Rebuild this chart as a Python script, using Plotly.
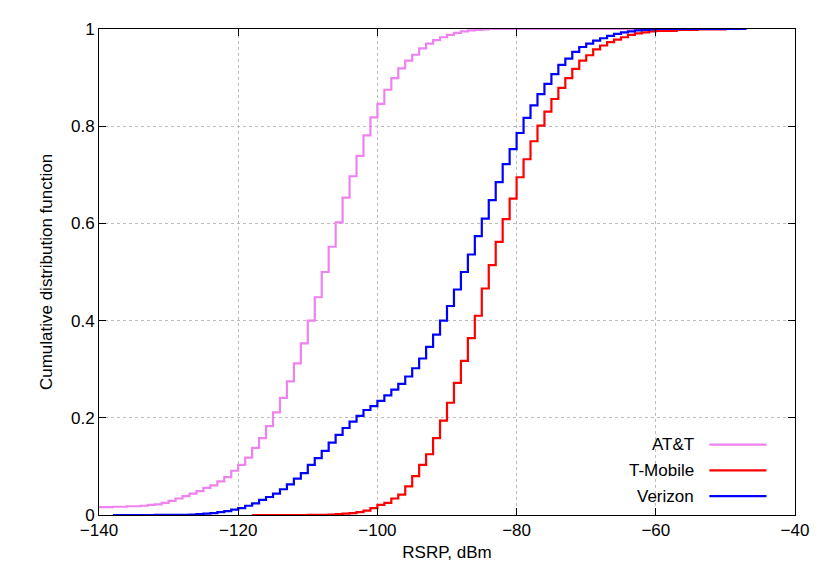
import plotly.graph_objects as go

x_att = list(range(-140, -83)) + [-47]
y_att = [0.016,0.016,0.017,0.017,0.018,0.018,0.019,0.021,0.022,0.025,
         0.029,0.034,0.039,0.044,0.049,0.056,0.061,0.069,0.078,0.091,
         0.103,0.118,0.138,0.158,0.183,0.211,0.241,0.275,0.312,0.353,
         0.40,0.448,0.50,0.552,0.602,0.653,0.697,0.739,0.781,0.818,
         0.846,0.875,0.899,0.919,0.935,0.947,0.96,0.97,0.977,0.983,
         0.988,0.992,0.995,0.997,0.998,0.999,1.0,1.0]

x_tmo = [-118,-110] + list(range(-107, -59)) + [-57,-54,-50,-47]
y_tmo = [0.0,0.0005,0.001,0.002,0.003,0.004,0.006,0.009,0.014,
         0.021,0.025,0.034,0.042,0.059,0.08,0.103,0.125,0.158,0.194,
         0.231,0.272,0.317,0.364,0.41,0.466,0.514,0.562,0.609,0.651,
         0.695,0.732,0.769,0.801,0.83,0.856,0.879,0.899,0.918,0.935,
         0.946,0.958,0.966,0.973,0.978,0.983,0.988,0.991,0.993,0.995,
         0.996,0.998,0.999,1.0,1.0]

x_vzw = [-138,-132] + list(range(-127, -59)) + [-55,-47]
y_vzw = [0.0,0.0005,0.001,0.002,0.003,0.004,0.006,0.008,0.011,
         0.014,0.019,0.024,0.031,0.037,0.044,0.053,0.063,0.075,0.086,
         0.103,0.117,0.132,0.149,0.165,0.179,0.192,0.204,0.216,0.224,
         0.235,0.246,0.258,0.27,0.285,0.302,0.322,0.346,0.371,0.40,
         0.43,0.464,0.5,0.536,0.574,0.61,0.648,0.685,0.722,0.753,
         0.786,0.817,0.843,0.866,0.887,0.907,0.926,0.939,0.953,0.963,
         0.97,0.976,0.981,0.986,0.99,0.993,0.995,0.997,0.998,0.999,
         1.0,1.0,1.0]

names = ["AT&T", "T-Mobile", "Verizon"]
colors = ["violet", "red", "blue"]
FONT = "Liberation Sans, Arial, sans-serif"

fig = go.Figure()
for xs, ys, n, c in zip([x_att, x_tmo, x_vzw], [y_att, y_tmo, y_vzw], names, colors):
    fig.add_trace(go.Scatter(x=xs, y=ys, mode="lines", line_shape="hv",
                             line=dict(color=c, width=2.2), name=n, showlegend=False))

# manual gnuplot-style legend (text then sample line)
for i, (n, c) in enumerate(zip(names, colors)):
    yp = 0.145 - i * 0.053
    fig.add_annotation(x=0.858, y=yp, xref="paper", yref="paper", text=n,
                       showarrow=False, xanchor="right", yanchor="middle",
                       font=dict(family=FONT, size=17, color="black"))
    fig.add_shape(type="line", xref="paper", yref="paper", x0=0.877, x1=0.959,
                  y0=yp, y1=yp, line=dict(color=c, width=2.2))

axis_common = dict(showline=True, linecolor="black", linewidth=1, mirror="ticks",
                   ticks="inside", ticklen=7, tickcolor="black",
                   showgrid=True, gridcolor="#bbbbbb", griddash="dot", gridwidth=1,
                   zeroline=False, tickfont=dict(family=FONT, size=17, color="black"))
fig.update_xaxes(range=[-140, -40], tickvals=list(range(-140, -39, 20)),
                 title=dict(text="RSRP, dBm", font=dict(family=FONT, size=17), standoff=6),
                 **axis_common)
fig.update_yaxes(range=[0, 1], tickvals=[0, 0.2, 0.4, 0.6, 0.8, 1],
                 ticktext=["0", "0.2", "0.4", "0.6", "0.8", "1"],
                 title=dict(text="Cumulative distribution function", font=dict(family=FONT, size=17), standoff=14),
                 **axis_common)
fig.update_layout(width=830, height=581, plot_bgcolor="white", paper_bgcolor="white",
                  margin=dict(l=91, r=43, t=13, b=74), font=dict(family=FONT, color="black"))
fig.write_html("out.html")
